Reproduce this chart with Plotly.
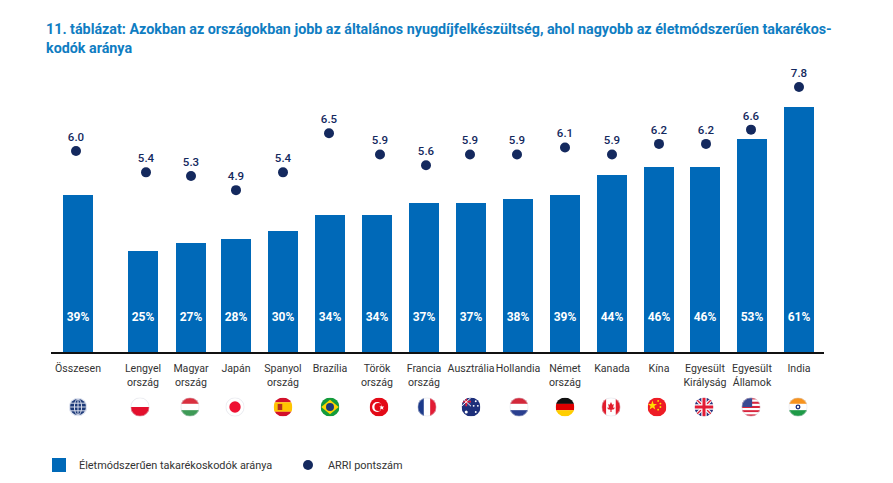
import base64
import plotly.graph_objects as go

# ---- data ----
categories = ["Összesen", "Lengyel<br>ország", "Magyar<br>ország", "Japán", "Spanyol<br>ország", "Brazília",
              "Török<br>ország", "Francia<br>ország", "Ausztrália", "Hollandia", "Német<br>ország", "Kanada",
              "Kína", "Egyesült<br>Királyság", "Egyesült<br>Államok", "India"]
saver_share = [39, 25, 27, 28, 30, 34, 34, 37, 37, 38, 39, 44, 46, 46, 53, 61]
arri_score = [6.0, 5.4, 5.3, 4.9, 5.4, 6.5, 5.9, 5.6, 5.9, 5.9, 6.1, 5.9, 6.2, 6.2, 6.6, 7.8]
flag_keys = ["globe", "pl", "hu", "jp", "es", "br", "tr", "fr", "au", "nl", "de", "ca", "cn", "uk", "us", "in"]
title_text = ("11. táblázat: Azokban az országokban jobb az általános nyugdíjfelkészültség, ahol nagyobb az "
              "életmódszerűen takarékos-<br>kodók aránya")
bar_name = "Életmódszerűen takarékoskodók aránya"
dot_name = "ARRI pontszám"

# ---- layout: coordinates below are page pixels; the page adds an 8px body margin ----
PAGE_W, PAGE_H = 893, 483
OFF = 8
W, H = PAGE_W - OFF, PAGE_H - OFF
def fx(px): return (px - OFF) / W
def fy(py): return 1 - (py - OFF) / H

bar_x = [78, 143, 191, 236, 283, 330, 377, 424, 471, 518, 565, 612, 659, 705, 752, 799]
dot_x = [76, 146, 191, 236, 283, 329, 380, 426, 470, 517, 565, 612, 659, 706, 751, 799]
flag_x = [78, 140, 190, 235, 283, 330, 379, 427, 471, 519, 565, 611, 657, 704, 751, 798]
BASE, TOP = 352, 60
PX_PER_PCT = 4.0
PX_PER_PT = 35.6
BLUE, NAVY, TITLE = "#0069B8", "#14295E", "#0F7DC2"
FONT = "Roboto"

def stripes_h(cols):
    n = len(cols)
    return "".join(f'<rect x="-50" y="{-50 + i * 100 / n}" width="100" height="{100 / n + .5}" fill="{c}"/>' for i, c in enumerate(cols))

def stripes_v(cols):
    n = len(cols)
    return "".join(f'<rect y="-50" x="{-50 + i * 100 / n}" height="100" width="{100 / n + .5}" fill="{c}"/>' for i, c in enumerate(cols))

FLAGS = {
    "globe": '<circle r="50" fill="#dfe4f0"/><circle r="42" fill="#1d3a78"/>'
             '<g stroke="#dfe4f0" stroke-width="5" fill="none"><ellipse rx="19" ry="42"/><path d="M0-42V42M-42 0H42M-37-20H37M-37 20H37"/></g>',
    "pl": stripes_h(["#ffffff", "#E30F2C"]),
    "hu": stripes_h(["#D9303F", "#ffffff", "#3E9A56"]),
    "jp": '<rect x="-50" y="-50" width="100" height="100" fill="#fff"/><circle r="30" fill="#EE1133"/>',
    "es": stripes_h(["#D2102A", "#FFC400", "#FFC400", "#D2102A"]) + '<rect x="-28" y="-16" width="24" height="32" fill="#B4301C"/>',
    "br": '<rect x="-50" y="-50" width="100" height="100" fill="#149B3C"/><path d="M0-38L46 0L0 38L-46 0Z" fill="#FFD400"/><circle r="21" fill="#1D3A78"/>',
    "tr": '<rect x="-50" y="-50" width="100" height="100" fill="#E30A17"/><circle cx="-10" r="26" fill="#fff"/><circle cx="-3" r="21" fill="#E30A17"/><path d="M12-12L16-2L27-3L20 5L24 15L14 9L6 14L8 3L2-4L12-3Z" fill="#fff"/>',
    "fr": stripes_v(["#1D3A8A", "#ffffff", "#E21C34"]),
    "au": '<rect x="-50" y="-50" width="100" height="100" fill="#1D2F7A"/><rect x="-50" y="-50" width="50" height="46" fill="#2A3C88"/>'
          '<path d="M-50-28H0M-25-50V-4" stroke="#E21C34" stroke-width="9"/><path d="M-50-50L0-4M0-50L-50-4" stroke="#fff" stroke-width="5"/>'
          '<g fill="#fff"><circle cx="-25" cy="26" r="8"/><circle cx="25" cy="-30" r="5"/><circle cx="36" cy="-6" r="5"/><circle cx="14" cy="-6" r="5"/><circle cx="25" cy="26" r="5"/></g>',
    "nl": stripes_h(["#D3283A", "#ffffff", "#2A3F8F"]),
    "de": stripes_h(["#111111", "#E00000", "#FFCE00"]),
    "ca": stripes_v(["#E21C2C", "#ffffff", "#ffffff", "#E21C2C"]) + '<path d="M0-26L7-12L15-16L11 4L20 2L16 12L3 14V26H-3V14L-16 12L-20 2L-11 4L-15-16L-7-12Z" fill="#E21C2C"/>',
    "cn": '<rect x="-50" y="-50" width="100" height="100" fill="#EE1C25"/><g fill="#FFDE00"><path d="M-24-34L-18-16L0-16L-14-5L-9 13L-24 2L-39 13L-34-5L-48-16L-30-16Z"/><circle cx="6" cy="-32" r="5"/><circle cx="18" cy="-18" r="5"/><circle cx="18" cy="0" r="5"/><circle cx="6" cy="14" r="5"/></g>',
    "uk": '<rect x="-50" y="-50" width="100" height="100" fill="#26317C"/><path d="M-50-50L50 50M50-50L-50 50" stroke="#fff" stroke-width="18"/><path d="M-50-50L50 50M50-50L-50 50" stroke="#E21C34" stroke-width="7"/>'
          '<path d="M0-50V50M-50 0H50" stroke="#fff" stroke-width="28"/><path d="M0-50V50M-50 0H50" stroke="#E21C34" stroke-width="16"/>',
    "us": stripes_h(["#D8243C", "#fff", "#D8243C", "#fff", "#D8243C", "#fff", "#D8243C", "#fff", "#D8243C"]) + '<rect x="-50" y="-50" width="56" height="50" fill="#3A4A92"/>',
    "in": stripes_h(["#F7931E", "#ffffff", "#1E9A47"]) + '<circle r="13" fill="#1D2F7A"/><circle r="6" fill="#fff"/>',
}
RINGED = {"pl", "hu", "jp", "fr", "nl", "ca", "us", "in"}

def flag_uri(key):
    ring = '<circle r="48.5" fill="none" stroke="#D9DCE3" stroke-width="3"/>' if key in RINGED else ""
    svg = (f'<svg xmlns="http://www.w3.org/2000/svg" width="80" height="80" viewBox="-50 -50 100 100">'
           f'<defs><clipPath id="c"><circle r="50"/></clipPath></defs><g clip-path="url(#c)">{FLAGS[key]}</g>{ring}</svg>')
    return "data:image/svg+xml;base64," + base64.b64encode(svg.encode()).decode()

fig = go.Figure()
fig.add_bar(x=bar_x, y=saver_share, width=28, name=bar_name, marker=dict(color=BLUE, line=dict(width=2, color=BLUE)),
            hoverinfo="skip")
fig.add_scatter(x=bar_x, y=[(BASE - 318) / PX_PER_PCT] * len(bar_x), mode="text",
                text=[f"{v}%" for v in saver_share], showlegend=False,
                textfont=dict(family=FONT, size=12, color="white", weight=700), textposition="middle center")
fig.add_scatter(x=dot_x, y=arri_score, yaxis="y2", mode="markers+text", name=dot_name,
                marker=dict(color=NAVY, size=10), text=[f"{v:.1f}" for v in arri_score],
                textposition="top center",
                textfont=dict(family=FONT, size=11.5, color=NAVY, weight=500))

fig.update_layout(
    width=W, height=H, autosize=False, margin=dict(l=0, r=0, t=0, b=0),
    paper_bgcolor="white", plot_bgcolor="white", barmode="overlay",
    font=dict(family=FONT, color="#222222", size=12),
    title=dict(text=title_text, x=fx(46), xanchor="left", xref="paper", y=fy(34), yanchor="top",
               font=dict(family=FONT, size=14.3, color=TITLE, weight=700)),
    xaxis=dict(range=[51, 824], domain=[fx(51), fx(824)], tickmode="array", tickvals=bar_x, ticktext=categories,
               showgrid=False, zeroline=False, showline=True, linecolor="#111111", linewidth=1.5, ticks="",
               ticklabelstandoff=6, tickangle=0, tickfont=dict(family=FONT, size=10.6, color="#333333", weight=400)),
    yaxis=dict(domain=[fy(BASE), fy(TOP)], range=[0, (BASE - TOP) / PX_PER_PCT], visible=False),
    yaxis2=dict(domain=[fy(BASE), fy(TOP)], overlaying="y", visible=False,
                range=[6 - (BASE - 151) / PX_PER_PT, 6 + (151 - TOP) / PX_PER_PT]),
    legend=dict(orientation="h", x=fx(39), xanchor="left", y=fy(465), yanchor="middle",
                entrywidth=204, entrywidthmode="pixels", itemwidth=30, bgcolor="rgba(0,0,0,0)",
                font=dict(family=FONT, size=10.9, color="#333333", weight=400)),
    images=[dict(source=flag_uri(k), x=px, y=fy(407), xref="x", yref="paper", sizex=19, sizey=19 / H,
                 xanchor="center", yanchor="middle", sizing="contain", layer="above")
            for k, px in zip(flag_keys, flag_x)],
)
fig.write_html("out.html", config={"displayModeBar": False})
